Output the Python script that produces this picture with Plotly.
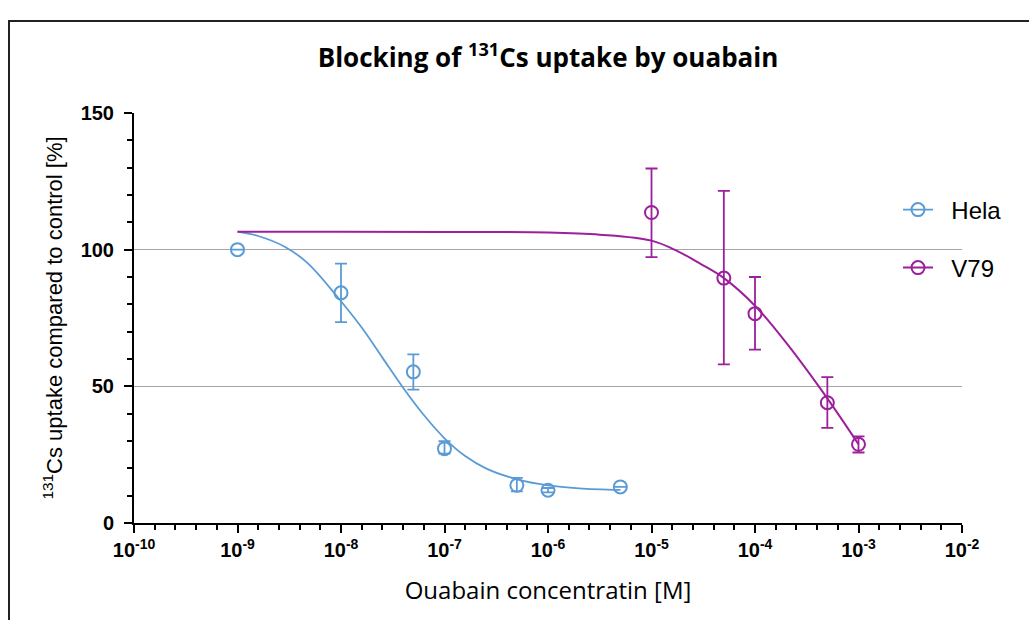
import plotly.graph_objects as go

# ---- data ----
hela_conc = [1e-9, 1e-8, 5e-8, 1e-7, 5e-7, 1e-6, 5e-6]
hela_val = [100.0, 84.2, 55.3, 27.2, 13.8, 12.0, 13.2]
hela_err_up = [0.0, 10.7, 6.4, 2.7, 2.7, 0.8, 0.0]
hela_err_dn = [0.0, 10.7, 6.5, 1.8, 2.2, 0.8, 0.0]

v79_conc = [1e-5, 5e-5, 1e-4, 5e-4, 1e-3]
v79_val = [113.6, 89.6, 76.6, 44.0, 28.8]
v79_err_up = [16.1, 31.9, 13.4, 9.4, 2.9]
v79_err_dn = [16.3, 31.6, 13.2, 9.2, 3.0]

# fitted curves (log10 concentration, %)
hela_fit_logx = [-9.0, -8.8, -8.54, -8.32, -8.03, -7.8, -7.6, -7.4, -7.2, -7.0,
                 -6.8, -6.6, -6.3, -6.0, -5.7, -5.3]
hela_fit_y = [106.6, 105.0, 101.0, 95.0, 82.5, 71.5, 60.5, 49.5, 39.5, 31.0,
              24.5, 20.0, 16.0, 13.8, 12.7, 12.1]
v79_fit_logx = [-9.0, -8.0, -7.0, -6.0, -5.5, -5.0, -4.75, -4.53, -4.30, -4.0,
                -3.69, -3.30, -3.0]
v79_fit_y = [106.6, 106.6, 106.5, 106.3, 105.5, 103.3, 99.5, 94.9, 89.6, 79.5,
             65.5, 45.5, 28.8]

x_tick_exps = [-10, -9, -8, -7, -6, -5, -4, -3, -2]
y_ticks = [0, 50, 100, 150]

HELA = "#5B9BD5"
V79 = "#9C1F9C"

# ---- layout geometry (pixels) ----
W, H = 1029, 620
L, R, T, B = 134, 67, 113, 97
pw, ph = W - L - R, H - T - B


def px2paper_x(px):
    return (px - L) / pw


def px2paper_y(py):
    return (H - B - py) / ph


fig = go.Figure()

fig.add_trace(go.Scatter(
    x=[10 ** v for v in hela_fit_logx], y=hela_fit_y, mode="lines",
    line=dict(color=HELA, width=1.8, shape="spline", smoothing=1.0),
    showlegend=False, hoverinfo="skip"))
fig.add_trace(go.Scatter(
    x=[10 ** v for v in v79_fit_logx], y=v79_fit_y, mode="lines",
    line=dict(color=V79, width=2, shape="spline", smoothing=1.0),
    showlegend=False, hoverinfo="skip"))

fig.add_trace(go.Scatter(
    x=hela_conc, y=hela_val, mode="markers", name="Hela", showlegend=False,
    marker=dict(symbol="circle-open", size=13, color=HELA, line=dict(width=2, color=HELA)),
    error_y=dict(type="data", array=hela_err_up, arrayminus=hela_err_dn, symmetric=False,
                 color=HELA, thickness=1.8, width=6)))
fig.add_trace(go.Scatter(
    x=v79_conc, y=v79_val, mode="markers", name="V79", showlegend=False,
    marker=dict(symbol="circle-open", size=13, color=V79, line=dict(width=2, color=V79)),
    error_y=dict(type="data", array=v79_err_up, arrayminus=v79_err_dn, symmetric=False,
                 color=V79, thickness=1.8, width=6)))

# legend entries (line + open circle)
fig.add_trace(go.Scatter(
    x=[None], y=[None], mode="lines+markers", name="&nbsp;&nbsp;Hela",
    line=dict(color=HELA, width=1.8),
    marker=dict(symbol="circle-open", size=13, color=HELA, line=dict(width=2, color=HELA)),
    legend="legend"))
fig.add_trace(go.Scatter(
    x=[None], y=[None], mode="lines+markers", name="&nbsp;&nbsp;V79",
    line=dict(color=V79, width=2),
    marker=dict(symbol="circle-open", size=13, color=V79, line=dict(width=2, color=V79)),
    legend="legend2"))

minor_x = [10 ** (-10 + 0.2 * k) for k in range(41) if k % 5 != 0]

legend_font = dict(family="Arial, Liberation Sans", size=24, color="black")

fig.update_layout(
    width=W, height=H,
    margin=dict(l=L, r=R, t=T, b=B),
    paper_bgcolor="white", plot_bgcolor="white",
    title=dict(text="<b>Blocking of <sup>131</sup>Cs uptake by ouabain</b>",
               x=0.5, xref="paper", y=1 - 58 / H, yanchor="middle",
               font=dict(family="Open Sans", size=26, color="black")),
    xaxis=dict(
        type="log", range=[-10, -2],
        tickvals=[10 ** e for e in x_tick_exps],
        ticktext=["<b>10<sup>%d</sup></b>" % e for e in x_tick_exps],
        ticks="outside", ticklen=8, tickwidth=2, tickcolor="black",
        showline=True, linecolor="black", linewidth=2, showgrid=False, zeroline=False,
        minor=dict(tickvals=minor_x, ticks="outside", ticklen=5, tickwidth=2,
                   tickcolor="black", showgrid=False),
        tickfont=dict(family="Arial, Liberation Sans", size=20, color="black"),
        title=dict(text="Ouabain concentratin [M]", standoff=22,
                   font=dict(family="Open Sans", size=24, color="black")),
    ),
    yaxis=dict(
        range=[0, 150], tickvals=y_ticks, ticktext=["<b>%d</b>" % v for v in y_ticks],
        ticks="outside", ticklen=8, tickwidth=2, tickcolor="black",
        showline=True, linecolor="black", linewidth=2,
        showgrid=True, gridcolor="#A6A6A6", gridwidth=1, zeroline=False,
        minor=dict(dtick=10, ticks="outside", ticklen=5, tickwidth=2,
                   tickcolor="black", showgrid=False),
        tickfont=dict(family="Arial, Liberation Sans", size=20, color="black"),
        ticklabelstandoff=6,
        title=dict(text="<sup>131</sup>Cs uptake compared to control [%]", standoff=12,
                   font=dict(family="Arial, Liberation Sans", size=22, color="black")),
    ),
    legend=dict(x=px2paper_x(898), y=px2paper_y(210), xanchor="left", yanchor="middle",
                itemwidth=30, bgcolor="rgba(0,0,0,0)", font=legend_font),
    legend2=dict(x=px2paper_x(898), y=px2paper_y(268), xanchor="left", yanchor="middle",
                 itemwidth=30, bgcolor="rgba(0,0,0,0)", font=legend_font),
    shapes=[dict(type="rect", xref="paper", yref="paper",
                 x0=px2paper_x(9), x1=px2paper_x(1100), y0=px2paper_y(700), y1=px2paper_y(21),
                 line=dict(color="#222222", width=2), fillcolor="rgba(0,0,0,0)", layer="below")],
)

fig.write_html("out.html")
